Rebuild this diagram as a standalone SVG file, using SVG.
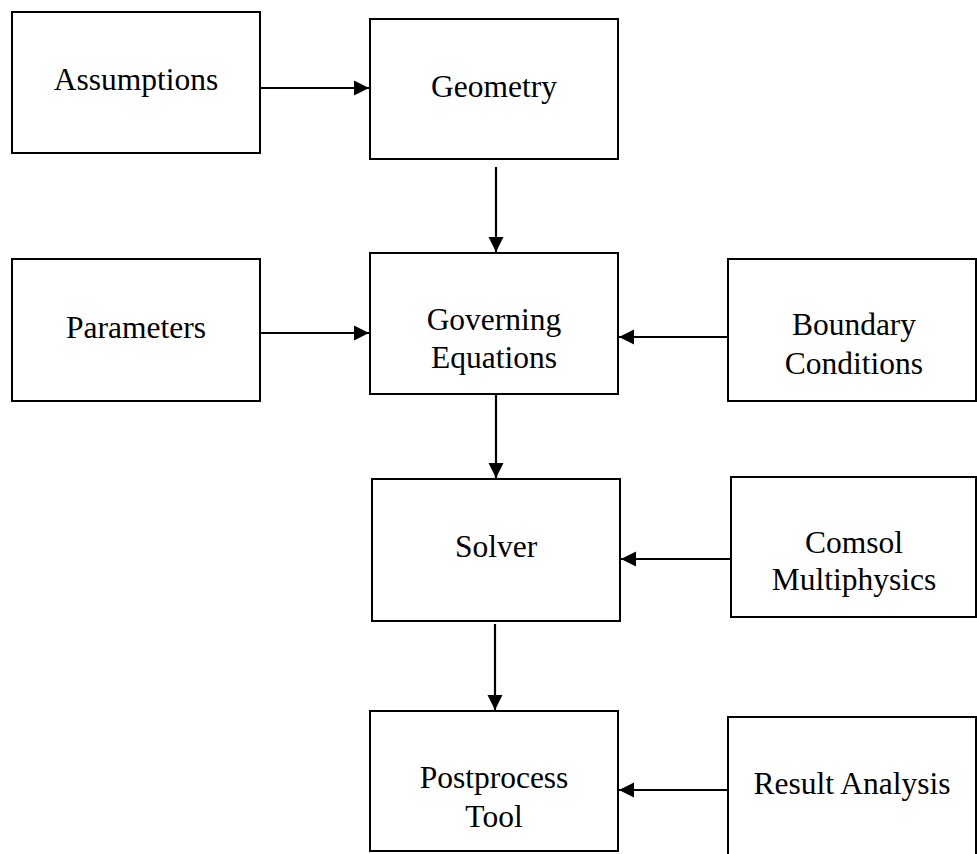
<svg xmlns="http://www.w3.org/2000/svg" width="977" height="854" viewBox="0 0 977 854">
<style>
.box{fill:#fff;stroke:#000;stroke-width:2}
.t{font-family:"Liberation Serif","Times New Roman",serif;font-size:31.5px;fill:#000;text-anchor:middle}
.c{stroke:#000;stroke-width:2.2;fill:none}
</style>
<defs>
<marker id="ah" markerUnits="userSpaceOnUse" markerWidth="16" markerHeight="16" viewBox="0 0 16 16" refX="15" refY="8" orient="auto">
<path d="M0,0.5 L15,8 L0,15.5 Z" fill="#000"/>
</marker>
</defs>
<rect width="977" height="854" fill="#fff"/>
<g id="connectors">
<line class="c" x1="261" y1="88" x2="369" y2="88" marker-end="url(#ah)"/>
<line class="c" x1="496" y1="167" x2="496" y2="252" marker-end="url(#ah)"/>
<line class="c" x1="261" y1="333" x2="369" y2="333" marker-end="url(#ah)"/>
<line class="c" x1="728" y1="337" x2="619" y2="337" marker-end="url(#ah)"/>
<line class="c" x1="496" y1="394" x2="496" y2="478" marker-end="url(#ah)"/>
<line class="c" x1="731" y1="559" x2="621" y2="559" marker-end="url(#ah)"/>
<line class="c" x1="495" y1="624" x2="495" y2="710" marker-end="url(#ah)"/>
<line class="c" x1="728" y1="790" x2="619" y2="790" marker-end="url(#ah)"/>
</g>
<g id="assumptions">
<rect class="box" x="12" y="12" width="248" height="141"/>
<text class="t" x="136" y="90">Assumptions</text>
</g>
<g id="geometry">
<rect class="box" x="370" y="19" width="248" height="140"/>
<text class="t" x="494" y="97">Geometry</text>
</g>
<g id="parameters">
<rect class="box" x="12" y="259" width="248" height="142"/>
<text class="t" x="136" y="338">Parameters</text>
</g>
<g id="governing">
<rect class="box" x="370" y="253" width="248" height="141"/>
<text class="t" x="494" y="330">Governing</text>
<text class="t" x="494" y="368">Equations</text>
</g>
<g id="boundary">
<rect class="box" x="728" y="259" width="248" height="142"/>
<text class="t" x="854" y="335">Boundary</text>
<text class="t" x="854" y="374">Conditions</text>
</g>
<g id="solver">
<rect class="box" x="372" y="479" width="248" height="142"/>
<text class="t" x="496" y="557">Solver</text>
</g>
<g id="comsol">
<rect class="box" x="731" y="477" width="245" height="140"/>
<text class="t" x="854" y="553">Comsol</text>
<text class="t" x="854" y="590">Multiphysics</text>
</g>
<g id="postprocess">
<rect class="box" x="370" y="711" width="248" height="140"/>
<text class="t" x="494" y="788">Postprocess</text>
<text class="t" x="494" y="827">Tool</text>
</g>
<g id="result">
<rect class="box" x="728" y="717" width="248" height="145"/>
<text class="t" x="852" y="794">Result Analysis</text>
</g>
</svg>
